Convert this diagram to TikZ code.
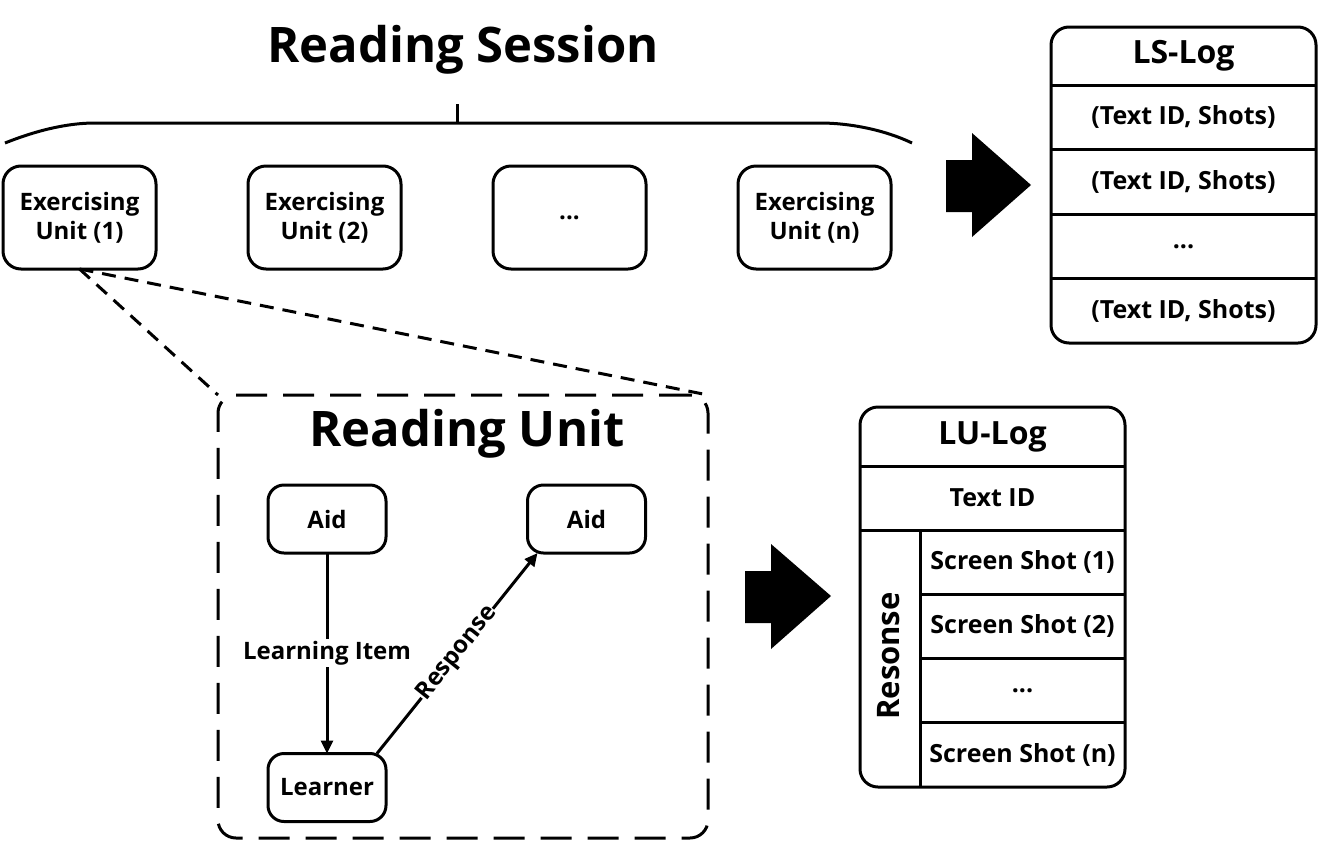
\documentclass[tikz,border=0pt]{standalone}
\usepackage{fontspec}
\setmainfont{Open Sans}
\usetikzlibrary{positioning,arrows.meta}

\begin{document}
\begin{tikzpicture}[x=1pt,y=-1pt,line width=3pt,
		every node/.style={outer sep=0pt,font=\bfseries},
		boxfont/.style={font=\fontsize{24}{29}\selectfont\bfseries},
		rowfont/.style={font=\fontsize{25}{29}\selectfont\bfseries},
		bigfont/.style={font=\fontsize{49}{53}\selectfont\bfseries},
		headfont/.style={font=\fontsize{32}{36}\selectfont\bfseries},
		unitbox/.style={draw,boxfont,rounded corners=18pt,minimum width=153pt,minimum height=103pt,align=center},
		itembox/.style={draw,boxfont,rounded corners=16pt,minimum width=118pt,minimum height=68pt},
		logframe/.style={draw,rounded corners=18pt,minimum width=265pt},
		loghead/.style={headfont,minimum width=265pt,minimum height=58pt},
		logrow/.style={rowfont,minimum width=265pt,minimum height=64.5pt},
		shotrow/.style={rowfont,minimum width=205pt,minimum height=64.25pt},
		linkdash/.style={dash pattern=on 14pt off 9pt},
		flow/.style={-{Triangle[length=13pt,width=12pt]}}]
	\useasboundingbox (0,0) rectangle (1319,844);
	% Reading session with its brace
	\node[bigfont] (rstitle) at (463,50) {Reading Session};
	\draw (5,143) .. controls (40,129) and (70,123) .. (95,123) -- (820,123) .. controls (850,123) and (885,130) .. (912,143);
	\draw (457,123) -- (457,104);
	\node[unitbox] (eu1) at (79.5,217.5) {Exercising\\Unit (1)};
	\node[unitbox,right=92pt of eu1] (eu2) {Exercising\\Unit (2)};
	\node[unitbox,right=92pt of eu2] (eudots) {...};
	\node[unitbox,right=92pt of eudots] (eun) {Exercising\\Unit (n)};
	% big arrows
	\fill (946,160) -- (972,160) -- (972,133) -- (1031,185) -- (972,237) -- (972,212) -- (946,212) -- cycle;
	\fill (745,571) -- (771,571) -- (771,544) -- (831,596) -- (771,649) -- (771,623) -- (745,623) -- cycle;
	% LS-Log
	\node[logframe,minimum height=316pt] (lslog) at (1183.5,185) {};
	\node[loghead,below=0pt of lslog.north] (lshead) {LS-Log};
	\node[logrow,below=0pt of lshead] (ls1) {(Text ID, Shots)};
	\node[logrow,below=0pt of ls1] (ls2) {(Text ID, Shots)};
	\node[logrow,below=0pt of ls2] (ls3) {...};
	\node[logrow,below=0pt of ls3] (ls4) {(Text ID, Shots)};
	\foreach \r in {ls1,ls2,ls3,ls4}
		\draw (\r.north west) -- (\r.north east);
	% Reading unit
	\node[draw,dash pattern=on 31pt off 16pt,rounded corners=18pt,minimum width=490pt,minimum height=443pt] (ru) at (463,616.5) {};
	\draw[linkdash] (eu1.south) -- (ru.north west);
	\draw[linkdash] (eu1.south) -- (ru.north east);
	\node[bigfont] (rutitle) at (467,434) {Reading Unit};
	\node[itembox] (aid1) at (327,519) {Aid};
	\node[itembox] (aid2) at (586.5,519) {Aid};
	\node[itembox] (learner) at (327,787.5) {Learner};
	\draw[flow] (aid1) -- node[boxfont,fill=white,inner sep=2pt] {Learning Item} (learner);
	\draw[flow] ([xshift=-9pt]learner.north east) -- node[boxfont,sloped,fill=white,inner sep=0pt] {Response} ([xshift=10pt]aid2.south west);
	% LU-Log
	\node[logframe,minimum height=380pt] (lulog) at (992.5,597) {};
	\node[loghead,minimum height=59pt,below=0pt of lulog.north] (luhead) {LU-Log};
	\node[logrow,minimum height=64pt,below=0pt of luhead] (luid) {Text ID};
	\node[shotrow,anchor=north east] (sh1) at (luid.south east) {Screen Shot (1)};
	\node[shotrow,below=0pt of sh1] (sh2) {Screen Shot (2)};
	\node[shotrow,below=0pt of sh2] (sh3) {...};
	\node[shotrow,below=0pt of sh3] (sh4) {Screen Shot (n)};
	\draw (luid.north west) -- (luid.north east);
	\draw (luid.south west) -- (luid.south east);
	\foreach \r in {sh2,sh3,sh4}
		\draw (\r.north west) -- (\r.north east);
	\draw (sh1.north west) -- (sh4.south west);
	\node[font=\fontsize{31}{35}\selectfont\bfseries,rotate=90] (resp) at (889,656) {Resonse};
\end{tikzpicture}
\end{document}
